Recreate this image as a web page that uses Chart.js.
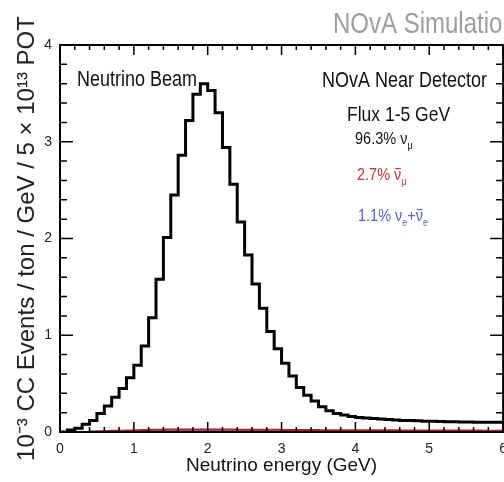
<!DOCTYPE html>
<html>
<head>
<meta charset="utf-8">
<script src="https://cdn.jsdelivr.net/npm/chart.js@4.4.1/dist/chart.umd.min.js"></script>
<style>
html, body { margin:0; padding:0; overflow:hidden; background:#fff; }
#wrap { width:504px; height:482px; overflow:hidden; }
canvas { display:block; }
</style>
</head>
<body>
<div id="wrap"><canvas id="fluxChart" width="516" height="482"></canvas></div>
<script>
// lower edge of each 0.1 GeV energy bin
const binStart = [
    0.0, 0.1, 0.2, 0.3, 0.4, 0.5, 0.6, 0.7, 0.8, 0.9,
    1.0, 1.1, 1.2, 1.3, 1.4, 1.5, 1.6, 1.7, 1.8, 1.9,
    2.0, 2.1, 2.2, 2.3, 2.4, 2.5, 2.6, 2.7, 2.8, 2.9,
    3.0, 3.1, 3.2, 3.3, 3.4, 3.5, 3.6, 3.7, 3.8, 3.9,
    4.0, 4.1, 4.2, 4.3, 4.4, 4.5, 4.6, 4.7, 4.8, 4.9,
    5.0, 5.1, 5.2, 5.3, 5.4, 5.5, 5.6, 5.7, 5.8, 5.9
]
const binEnd = 6.0

// numu CC events (black)
const numuEvents = [
    0.00, 0.02, 0.04, 0.08, 0.12, 0.19, 0.27, 0.36, 0.45, 0.56,
    0.69, 0.89, 1.18, 1.58, 2.01, 2.45, 2.86, 3.22, 3.49, 3.60,
    3.53, 3.30, 2.94, 2.56, 2.17, 1.83, 1.53, 1.28, 1.04, 0.86,
    0.71, 0.58, 0.46, 0.38, 0.32, 0.26, 0.22, 0.19, 0.175, 0.16,
    0.15, 0.145, 0.14, 0.135, 0.13, 0.125, 0.12, 0.118, 0.115, 0.112,
    0.11, 0.108, 0.106, 0.105, 0.104, 0.103, 0.102, 0.101, 0.10, 0.10
]

// anti-numu CC events (red)
const numubarEvents = [
    0.000, 0.000, 0.000, 0.000, 0.005, 0.008, 0.010, 0.012, 0.014, 0.016,
    0.018, 0.020, 0.022, 0.024, 0.025, 0.026, 0.027, 0.027, 0.027, 0.027,
    0.026, 0.026, 0.025, 0.025, 0.024, 0.024, 0.023, 0.023, 0.022, 0.022,
    0.021, 0.021, 0.020, 0.020, 0.020, 0.019, 0.019, 0.019, 0.018, 0.018,
    0.018, 0.018, 0.017, 0.017, 0.017, 0.017, 0.016, 0.016, 0.016, 0.016,
    0.016, 0.015, 0.015, 0.015, 0.015, 0.015, 0.015, 0.014, 0.014, 0.014
]

// nue + anti-nue CC events (blue)
const nueEvents = [
    0.000, 0.000, 0.000, 0.000, 0.002, 0.003, 0.004, 0.005, 0.005, 0.006,
    0.006, 0.007, 0.007, 0.008, 0.008, 0.008, 0.008, 0.008, 0.008, 0.008,
    0.008, 0.008, 0.008, 0.007, 0.007, 0.007, 0.007, 0.007, 0.006, 0.006,
    0.006, 0.006, 0.006, 0.006, 0.005, 0.005, 0.005, 0.005, 0.005, 0.005,
    0.005, 0.005, 0.005, 0.005, 0.005, 0.004, 0.004, 0.004, 0.004, 0.004,
    0.004, 0.004, 0.004, 0.004, 0.004, 0.004, 0.004, 0.004, 0.004, 0.004
]

const xTicks = [0, 1, 2, 3, 4, 5, 6]
const yTicks = [0, 1, 2, 3, 4]

const fontFamily = '"Liberation Sans", Arial, Helvetica, sans-serif'

function histPoints(values) {
    const pts = binStart.map((x, i) => ({ x: x, y: values[i] }))
    pts.push({ x: binEnd, y: values[values.length - 1] })
    return pts
}

function drawRich(ctx, parts, x, y, size, color) {
    ctx.save()
    ctx.translate(x, y)
    ctx.scale(1, 1.2)
    ctx.fillStyle = color
    ctx.strokeStyle = color
    ctx.textBaseline = 'alphabetic'
    ctx.textAlign = 'left'
    let cx = 0
    parts.forEach(p => {
        const s = p.sub ? size * 0.62 : size
        ctx.font = `${s}px ${fontFamily}`
        const dy = p.sub ? size * 0.28 : 0
        ctx.fillText(p.t, cx, dy)
        const w = ctx.measureText(p.t).width
        if (p.bar) {
            ctx.lineWidth = 1
            ctx.beginPath()
            ctx.moveTo(cx + 1, -size * 0.66)
            ctx.lineTo(cx + w - 0.5, -size * 0.66)
            ctx.stroke()
        }
        cx += w
    })
    ctx.restore()
}

const frameAndLabels = {
    id: 'frameAndLabels',
    afterDraw(chart) {
        const { ctx, chartArea: a, scales: { x, y } } = chart
        ctx.save()
        ctx.strokeStyle = '#000'
        ctx.lineWidth = 2
        ctx.strokeRect(a.left, a.top, a.right - a.left, a.bottom - a.top)

        // ROOT style ticks pointing inwards
        ctx.lineWidth = 1.5
        ctx.beginPath()
        for (let i = 0; i <= 30; i++) {
            const px = x.getPixelForValue(i * 0.2)
            const len = i % 5 === 0 ? 10 : 5
            ctx.moveTo(px, a.bottom)
            ctx.lineTo(px, a.bottom - len)
            ctx.moveTo(px, a.top)
            ctx.lineTo(px, a.top + len)
        }
        for (let i = 0; i <= 20; i++) {
            const py = y.getPixelForValue(i * 0.2)
            const len = i % 5 === 0 ? 13 : 7
            ctx.moveTo(a.left, py)
            ctx.lineTo(a.left + len, py)
            ctx.moveTo(a.right, py)
            ctx.lineTo(a.right - len, py)
        }
        ctx.stroke()
        ctx.restore()

        drawRich(ctx, [{ t: 'NOvA Simulation' }], 333, 33, 24, '#9e9e9e')
        drawRich(ctx, [{ t: 'Neutrino Beam' }], 77, 86, 18, '#111')
        drawRich(ctx, [{ t: 'NOvA Near Detector' }], 322, 87, 18, '#111')
        drawRich(ctx, [{ t: 'Flux 1-5 GeV' }], 347, 121, 17.5, '#111')
        drawRich(ctx, [{ t: '96.3% ν' }, { t: 'μ', sub: true }], 355, 144, 14.5, '#111')
        drawRich(ctx, [{ t: '2.7% ' }, { t: 'ν', bar: true }, { t: 'μ', sub: true }], 357, 180, 14.5, '#cc3030')
        drawRich(ctx, [{ t: '1.1% ν' }, { t: 'e', sub: true }, { t: '+' }, { t: 'ν', bar: true }, { t: 'e', sub: true }], 358, 221, 14.5, '#5a5ad0')
    }
}

const ctx = document.getElementById('fluxChart')

new Chart(ctx, {
    type: 'line',
    data: {
        datasets: [{
            label: 'numu',
            data: histPoints(numuEvents),
            borderColor: '#000',
            borderWidth: 3,
            stepped: true,
            pointRadius: 0,
            fill: false
        }, {
            label: 'numubar',
            data: histPoints(numubarEvents),
            borderColor: '#b02020',
            borderWidth: 2,
            stepped: true,
            pointRadius: 0,
            fill: false
        }, {
            label: 'nue',
            data: histPoints(nueEvents),
            borderColor: '#5a5ad0',
            borderWidth: 2,
            stepped: true,
            pointRadius: 0,
            fill: false
        }]
    },
    options: {
        responsive: false,
        animation: false,
        layout: { padding: { top: 45, right: 7, left: 0, bottom: 0 } },
        plugins: {
            legend: { display: false },
            tooltip: { enabled: false }
        },
        scales: {
            x: {
                type: 'linear',
                min: 0,
                max: 6,
                afterFit(scale) { scale.height = 50 },
                afterBuildTicks(scale) { scale.ticks = xTicks.map(v => ({ value: v })) },
                grid: { display: false, drawTicks: false },
                border: { display: false },
                ticks: {
                    padding: 9,
                    maxRotation: 0,
                    autoSkip: false,
                    color: '#222',
                    font: { size: 14, family: fontFamily }
                },
                title: {
                    display: true,
                    text: 'Neutrino energy (GeV)',
                    color: '#111',
                    font: { size: 19, family: fontFamily },
                    padding: { top: 0, bottom: 5 }
                }
            },
            y: {
                type: 'linear',
                min: 0,
                max: 4,
                afterFit(scale) { scale.width = 60 },
                afterBuildTicks(scale) { scale.ticks = yTicks.map(v => ({ value: v })) },
                grid: { display: false, drawTicks: false },
                border: { display: false },
                ticks: {
                    padding: 8,
                    autoSkip: false,
                    color: '#222',
                    font: { size: 14, family: fontFamily }
                },
                title: {
                    display: true,
                    text: '10⁻³ CC Events / ton / GeV / 5 × 10¹³ POT',
                    color: '#222',
                    font: { size: 24, family: fontFamily },
                    padding: { top: 13, bottom: 0 }
                }
            }
        }
    },
    plugins: [frameAndLabels]
})
</script>
</body>
</html>
